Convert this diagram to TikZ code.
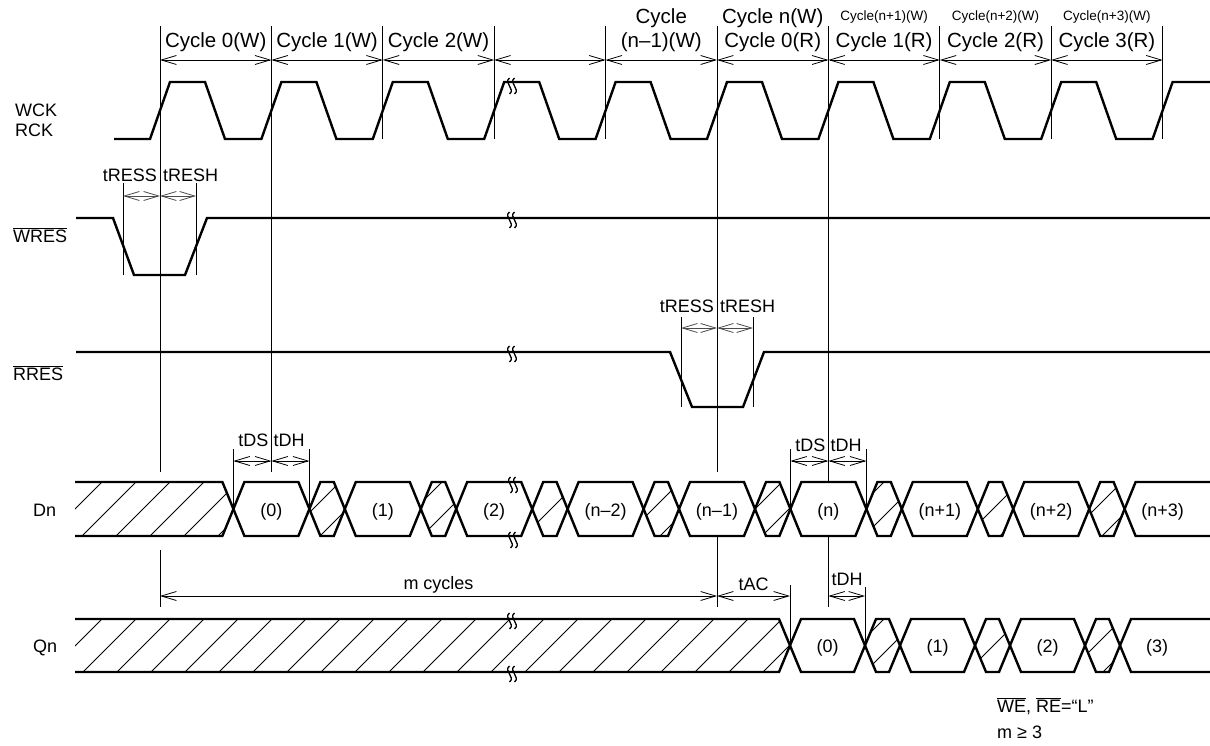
\documentclass[tikz,border=0pt]{standalone}
\usepackage{fontspec}
\setmainfont{Liberation Sans}
\usetikzlibrary{arrows.meta}
\newcommand\brkmark[2]{%
  \draw[brk] ({#1-2.5},{#2-8}) .. controls ({#1-9},{#2-3}) and ({#1+4},{#2+3}) .. ({#1-2.5},{#2+8});
  \draw[brk] ({#1+2.5},{#2-8}) .. controls ({#1-4},{#2-3}) and ({#1+9},{#2+3}) .. ({#1+2.5},{#2+8});}
\begin{document}
\begin{tikzpicture}[x=1pt,y=-1pt,
  sig/.style={line width=2.4pt},
  thinl/.style={line width=0.9pt},
  hatchl/.style={line width=0.8pt},
  brk/.style={line width=1.3pt},
  dimar/.style={line width=0.8pt,arrows={Straight Barb[length=15pt,width=9pt]-Straight Barb[length=15pt,width=9pt]}},
  lbl/.style={font=\fontsize{18}{20}\selectfont,inner sep=0pt,anchor=base west},
  tlbl/.style={font=\fontsize{18}{20}\selectfont,inner sep=0pt},
  cyc/.style={font=\fontsize{20.5}{22}\selectfont,inner sep=0pt,anchor=base},
  cycs/.style={font=\fontsize{13.5}{15}\selectfont,inner sep=0pt,anchor=base},
]
\fill[white] (0,0) rectangle (1210,746);
\useasboundingbox (0,0) rectangle (1210,746);

% ---------- cycle boundary lines ----------
\foreach \k in {2,3,4,7,8,9} \draw[thinl] ({160+111.4*\k},26) -- ({160+111.4*\k},139);
\draw[thinl] (160,26) -- (160,472);
\draw[thinl] (160,550) -- (160,607);
\draw[thinl] (271.4,26) -- (271.4,472);
\draw[thinl] (717,26) -- (717,472);
\draw[thinl] (717,536) -- (717,607);
\draw[thinl] (828.4,26) -- (828.4,482);
\draw[thinl] (828.4,536) -- (828.4,607);

% cycle dimension arrows
\foreach \k in {0,...,8} \draw[dimar] ({160+111.4*\k},60) -- ({160+111.4*(\k+1)},60);

% cycle labels
\node[cyc] (c0) at (215.7,48) {Cycle 0(W)};
\node[cyc] (c1) at (327.1,48) {Cycle 1(W)};
\node[cyc] (c2) at (438.5,48) {Cycle 2(W)};
\node[cyc] (c4a) at (661.3,23.5) {Cycle};
\node[cyc] (c4b) at (661.3,48) {(n–1)(W)};
\node[cyc] (c5a) at (772.7,23.5) {Cycle n(W)};
\node[cyc] (c5b) at (772.7,48) {Cycle 0(R)};
\node[cycs] (c6a) at (884.1,20.5) {Cycle(n+1)(W)};
\node[cyc] (c6b) at (884.1,48) {Cycle 1(R)};
\node[cycs] (c7a) at (995.5,20.5) {Cycle(n+2)(W)};
\node[cyc] (c7b) at (995.5,48) {Cycle 2(R)};
\node[cycs] (c8a) at (1106.9,20.5) {Cycle(n+3)(W)};
\node[cyc] (c8b) at (1106.9,48) {Cycle 3(R)};

% ---------- signal names ----------
\node[lbl] (wck) at (15,117) {WCK};
\node[lbl] (rck) at (15,137) {RCK};
\node[lbl] (wres) at (13,242) {$\overline{\mbox{WRES}}$};
\node[lbl] (rres) at (13,380) {$\overline{\mbox{RRES}}$};
\node[lbl] (dn) at (33,516) {Dn};
\node[lbl] (qn) at (33,652) {Qn};

% ---------- WCK / RCK ----------
\draw[sig] (114,139)
  \foreach \k in {0,...,8} { -- ({160+111.4*\k-10},139) -- ({160+111.4*\k+10},82) -- ({160+111.4*\k+45},82) -- ({160+111.4*\k+65},139) }
  -- (1152.6,139) -- (1172.6,82) -- (1210,82);
\brkmark{512}{86}

% ---------- WRES ----------
\draw[sig] (76,218) -- (113,218) -- (134,275) -- (185,275) -- (207,218) -- (1210,218);
\brkmark{512}{220}
\draw[thinl] (123,183) -- (123,275);
\draw[thinl] (196,183) -- (196,275);
\draw[dimar,black!70] (123,196) -- (160,196);
\draw[dimar,black!70] (160,196) -- (196,196);
\node[tlbl,anchor=base east] (wress) at (157,182) {tRESS};
\node[tlbl,anchor=base west] (wresh) at (163,182) {tRESH};

% ---------- RRES ----------
\draw[sig] (76,352) -- (670,352) -- (692,407) -- (743,407) -- (764,352) -- (1210,352);
\brkmark{512}{354}
\draw[thinl] (681,317) -- (681,407);
\draw[thinl] (753,317) -- (753,407);
\draw[dimar,black!70] (681,328) -- (717,328);
\draw[dimar,black!70] (717,328) -- (753,328);
\node[tlbl,anchor=base east] (rress) at (714,312) {tRESS};
\node[tlbl,anchor=base west] (rresh) at (720,312) {tRESH};

% ---------- Dn ----------
\begin{scope}
\clip (75,482) -- (222.4,482) -- (233.4,509) -- (222.4,536) -- (75,536) -- cycle
  \foreach \a/\b in {309.4/344.8,420.8/456.2,532.2/567.6,643.6/679,755/790.4,866.4/901.8,977.8/1013.2,1089.2/1124.6}
  { (\a,509) -- ({\a+11},482) -- ({\b-11},482) -- (\b,509) -- ({\b-11},536) -- ({\a+11},536) -- cycle };
\foreach \j in {-1,...,34} \draw[hatchl] ({102+34*\j},482) -- ({102+34*\j-54},536);
\end{scope}
\draw[sig] (75,482)
  \foreach \a/\b in {233.4/309.4,344.8/420.8,456.2/532.2,567.6/643.6,679/755,790.4/866.4,901.8/977.8,1013.2/1089.2}
  { -- ({\a-11},482) -- ({\a+11},536) -- ({\b-11},536) -- ({\b+11},482) }
  -- (1113.6,482) -- (1135.6,536) -- (1210,536);
\draw[sig] (75,536)
  \foreach \a/\b in {233.4/309.4,344.8/420.8,456.2/532.2,567.6/643.6,679/755,790.4/866.4,901.8/977.8,1013.2/1089.2}
  { -- ({\a-11},536) -- ({\a+11},482) -- ({\b-11},482) -- ({\b+11},536) }
  -- (1113.6,536) -- (1135.6,482) -- (1210,482);
\brkmark{513}{485}
\brkmark{513}{540}
\foreach \x/\t [count=\i] in {271.4/(0),382.8/(1),494.2/(2),605.6/(n–2),717/(n–1),828.4/(n),939.8/(n+1),1051.2/(n+2),1162.6/(n+3)}
  \node[tlbl,anchor=base] (d\i) at (\x,516) {\t};
% Dn timing
\draw[thinl] (233.4,449) -- (233.4,509);
\draw[thinl] (309.4,449) -- (309.4,509);
\draw[dimar] (233.4,461) -- (271.4,461);
\draw[dimar] (271.4,461) -- (309.4,461);
\node[tlbl,anchor=base east] (tds1) at (268.5,446) {tDS};
\node[tlbl,anchor=base west] (tdh1) at (273.5,446) {tDH};
\draw[thinl] (790.4,449) -- (790.4,509);
\draw[thinl] (866.4,449) -- (866.4,509);
\draw[dimar] (790.4,461) -- (828.4,461);
\draw[dimar] (828.4,461) -- (866.4,461);
\node[tlbl,anchor=base east] (tds2) at (825.5,451) {tDS};
\node[tlbl,anchor=base west] (tdh2) at (830.5,451) {tDH};

% ---------- Qn ----------
\begin{scope}
\clip (75,619) -- (779,619) -- (790,645.5) -- (779,672) -- (75,672) -- cycle
  \foreach \a/\b in {865/900,975/1010,1085/1120}
  { (\a,645.5) -- ({\a+11},619) -- ({\b-11},619) -- (\b,645.5) -- ({\b-11},672) -- ({\a+11},672) -- cycle };
\foreach \j in {-1,...,34} \draw[hatchl] ({102+34*\j},619) -- ({102+34*\j-53},672);
\end{scope}
\draw[sig] (75,619)
  \foreach \a/\b in {790/865,900/975,1010/1085}
  { -- ({\a-11},619) -- ({\a+11},672) -- ({\b-11},672) -- ({\b+11},619) }
  -- (1109,619) -- (1131,672) -- (1210,672);
\draw[sig] (75,672)
  \foreach \a/\b in {790/865,900/975,1010/1085}
  { -- ({\a-11},672) -- ({\a+11},619) -- ({\b-11},619) -- ({\b+11},672) }
  -- (1109,672) -- (1131,619) -- (1210,619);
\brkmark{512}{621}
\brkmark{512}{674}
\foreach \x/\t [count=\i] in {827.5/(0),937.5/(1),1047.5/(2),1157/(3)}
  \node[tlbl,anchor=base] (q\i) at (\x,652) {\t};
% Qn timing
\draw[dimar] (160,596) -- (717,596);
\node[tlbl,anchor=base] (mcyc) at (438.5,589) {m cycles};
\draw[thinl] (790,585) -- (790,645.5);
\draw[dimar] (717,596) -- (790,596);
\node[tlbl,anchor=base] (tac) at (753.5,590) {tAC};
\draw[thinl] (865,587) -- (865,645.5);
\draw[dimar] (828.4,596) -- (865,596);
\node[tlbl,anchor=base west] (tdh3) at (831.5,585) {tDH};

% ---------- note ----------
\node[lbl] (note1) at (997,712) {$\overline{\mbox{WE}}$, $\overline{\mbox{RE}}$=“L”};
\node[lbl] (note2) at (997,738) {m ≥ 3};
\end{tikzpicture}
\end{document}
